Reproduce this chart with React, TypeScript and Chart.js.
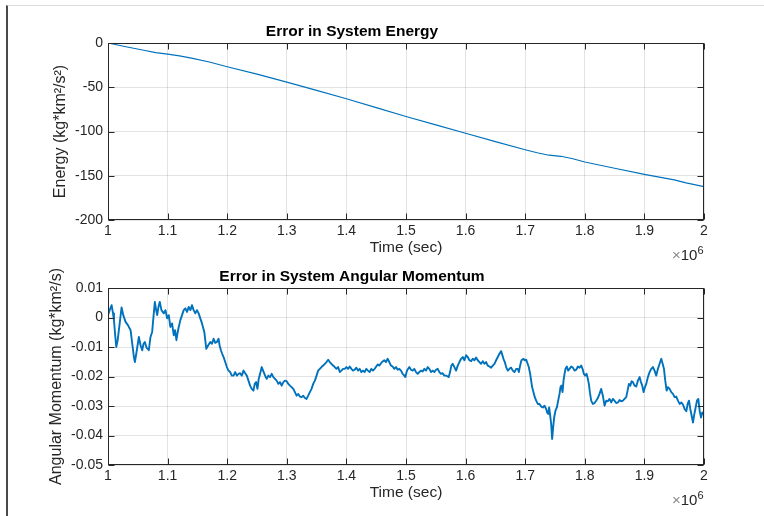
import React, { useEffect, useRef } from "react";
import { Chart, registerables } from "chart.js";

Chart.register(...registerables);

// ---------- data (time in units of 10^6 s) ----------
const timeTicks = [1, 1.1, 1.2, 1.3, 1.4, 1.5, 1.6, 1.7, 1.8, 1.9, 2];
const energyTicks = [0, -50, -100, -150, -200];
const momentumTicks = [0.01, 0, -0.01, -0.02, -0.03, -0.04, -0.05];

const energyTime = [
  1.0, 1.03, 1.06, 1.08, 1.1, 1.12, 1.14, 1.17, 1.2, 1.25, 1.3, 1.35, 1.4, 1.45, 1.5,
  1.55, 1.6, 1.65, 1.7, 1.72, 1.74, 1.76, 1.78, 1.8, 1.85, 1.9, 1.95, 1.97, 2.0,
];
const energyError = [
  0, -4.2, -8.2, -10.8, -12.6, -14.6, -17.0, -21.5, -26.8, -35.2, -44.2, -53.5, -63, -73, -83,
  -92.5, -102, -111.5, -120.6, -124, -126.8, -128, -130.8, -134.5, -141.5, -148.4, -154.6, -158, -162.4,
];

const momentumTime = [
  1.0, 1.0028, 1.0061, 1.0084, 1.01, 1.0123, 1.0139, 1.0162, 1.0189, 1.0228, 1.0256, 1.0295, 1.0334,
  1.0379, 1.0407, 1.0435, 1.0451, 1.0479, 1.0518, 1.0546, 1.0574, 1.0596, 1.0618, 1.0646, 1.0685,
  1.0713, 1.0741, 1.0758, 1.0786, 1.0808, 1.0825, 1.0847, 1.0869, 1.0897, 1.0936, 1.0964, 1.0992,
  1.1019, 1.1047, 1.1075, 1.1103, 1.1125, 1.1148, 1.117, 1.1187, 1.1214, 1.1242, 1.127, 1.1298,
  1.1326, 1.1354, 1.1382, 1.1409, 1.1437, 1.1465, 1.1493, 1.1521, 1.1549, 1.1577, 1.1616, 1.1649,
  1.1682, 1.1716, 1.1744, 1.1772, 1.1799, 1.1827, 1.1855, 1.1872, 1.1894, 1.1916, 1.1939, 1.1967,
  1.1994, 1.2022, 1.205, 1.2078, 1.2106, 1.2134, 1.2162, 1.2189, 1.2217, 1.2245, 1.2273, 1.2301,
  1.2329, 1.2357, 1.2384, 1.2412, 1.244, 1.2462, 1.2485, 1.2507, 1.2529, 1.2552, 1.2579, 1.2602,
  1.2624, 1.2646, 1.2663, 1.2691, 1.2719, 1.2747, 1.2774, 1.2802, 1.283, 1.2858, 1.2886, 1.2914,
  1.2942, 1.2969, 1.2997, 1.3025, 1.3053, 1.3081, 1.3109, 1.3136, 1.3164, 1.3192, 1.322, 1.3248,
  1.3276, 1.3304, 1.3331, 1.3359, 1.3387, 1.3415, 1.3443, 1.3471, 1.3499, 1.3526, 1.3554, 1.3582,
  1.361, 1.3638, 1.3666, 1.3694, 1.3721, 1.3749, 1.3777, 1.3805, 1.3833, 1.3861, 1.3889, 1.3916,
  1.3944, 1.3972, 1.4, 1.4028, 1.4056, 1.4084, 1.4111, 1.4139, 1.4167, 1.4195, 1.4223, 1.4251,
  1.4279, 1.4306, 1.4334, 1.4362, 1.439, 1.4418, 1.4446, 1.4474, 1.4501, 1.4529, 1.4552, 1.4597,
  1.4636, 1.4664, 1.4692, 1.472, 1.4748, 1.4776, 1.4804, 1.4832, 1.486, 1.4888, 1.4916, 1.4944,
  1.4972, 1.4989, 1.5017, 1.5056, 1.5084, 1.5112, 1.514, 1.5168, 1.5196, 1.5224, 1.5252, 1.528,
  1.5308, 1.5336, 1.5364, 1.5392, 1.542, 1.5448, 1.5476, 1.5504, 1.5532, 1.556, 1.5588, 1.5616,
  1.5644, 1.5672, 1.57, 1.5717, 1.5739, 1.5761, 1.5784, 1.5812, 1.584, 1.5868, 1.5896, 1.5924,
  1.5952, 1.598, 1.6008, 1.6036, 1.6064, 1.6092, 1.612, 1.6148, 1.6176, 1.6204, 1.6232, 1.626,
  1.6288, 1.6316, 1.6344, 1.6372, 1.64, 1.6428, 1.6456, 1.6484, 1.6512, 1.654, 1.6568, 1.6596,
  1.6613, 1.6635, 1.6658, 1.668, 1.6708, 1.6736, 1.6764, 1.6792, 1.682, 1.6848, 1.6876, 1.6893,
  1.6915, 1.6937, 1.6971, 1.6993, 1.7016, 1.7038, 1.706, 1.7083, 1.71, 1.7116, 1.7139, 1.7161,
  1.7184, 1.7212, 1.724, 1.7268, 1.7296, 1.7324, 1.7352, 1.7368, 1.7385, 1.7402, 1.7419, 1.7436,
  1.7452, 1.7469, 1.7486, 1.7508, 1.7531, 1.7553, 1.7576, 1.7592, 1.7609, 1.7626, 1.7643, 1.766,
  1.7676, 1.7699, 1.7721, 1.7744, 1.7772, 1.78, 1.7828, 1.7856, 1.7884, 1.7912, 1.794, 1.7962,
  1.7984, 1.8007, 1.8029, 1.8051, 1.8068, 1.8085, 1.8107, 1.8135, 1.8163, 1.8191, 1.8219, 1.8247,
  1.8275, 1.8303, 1.8331, 1.8359, 1.8387, 1.8415, 1.8443, 1.8471, 1.8499, 1.8527, 1.8555, 1.8583,
  1.8611, 1.8639, 1.8667, 1.8695, 1.8718, 1.874, 1.8763, 1.8785, 1.8807, 1.8835, 1.8863, 1.8891,
  1.8919, 1.8942, 1.8964, 1.8986, 1.9009, 1.9031, 1.9059, 1.9087, 1.9115, 1.9143, 1.9171, 1.9199,
  1.9227, 1.9255, 1.9283, 1.9306, 1.9328, 1.935, 1.9373, 1.9395, 1.9423, 1.9451, 1.9479, 1.9507,
  1.9535, 1.9563, 1.9591, 1.9619, 1.9647, 1.9675, 1.9703, 1.9726, 1.9748, 1.977, 1.9793, 1.9815,
  1.9838, 1.986, 1.9882, 1.9905, 1.9927, 1.995, 1.9972, 2.0,
];
const momentumError = [
  0.0008, 0.0025, 0.0042, 0.0014, -0.0009, -0.0066, -0.01, -0.0077, -0.0032, 0.0034, 0.0008, -0.0015, -0.0026,
  -0.0043, -0.0089, -0.0134, -0.0151, -0.0117, -0.0066, -0.0094, -0.0111, -0.0089, -0.0083, -0.0102, -0.0111,
  -0.0066, -0.0049, -0.0009, 0.0053, 0.0025, 0.0008, 0.0036, 0.0053, 0.0025, 0.0014, 0.0025, -0.0003,
  0.0008, -0.0032, -0.002, -0.006, -0.0043, -0.0077, -0.0049, -0.0032, -0.0009, 0.0008, 0.0025, 0.0031,
  0.0019, 0.0036, 0.0025, 0.0042, 0.0025, 0.0014, 0.0025, 0.0014, -0.0003, -0.002, -0.0049, -0.0106,
  -0.0094, -0.0083, -0.0089, -0.0072, -0.0086, -0.0083, -0.0072, -0.0094, -0.0111, -0.0123, -0.0134, -0.0151,
  -0.0168, -0.018, -0.0185, -0.0197, -0.0197, -0.0185, -0.0197, -0.0191, -0.0189, -0.0197, -0.018, -0.0189,
  -0.0197, -0.0214, -0.0231, -0.0242, -0.0248, -0.0225, -0.0219, -0.0242, -0.0208, -0.0191, -0.0168, -0.018,
  -0.0191, -0.0202, -0.0208, -0.0197, -0.0202, -0.0191, -0.0202, -0.0208, -0.0214, -0.0225, -0.0219, -0.0231,
  -0.0219, -0.0214, -0.0216, -0.0225, -0.0231, -0.0236, -0.0242, -0.0253, -0.0265, -0.0259, -0.0268, -0.027,
  -0.0265, -0.0273, -0.0276, -0.0265, -0.0253, -0.0242, -0.0225, -0.0214, -0.0197, -0.018, -0.0174, -0.0168,
  -0.0163, -0.0157, -0.0151, -0.0143, -0.0151, -0.0157, -0.0163, -0.0168, -0.0174, -0.0168, -0.0185, -0.018,
  -0.0174, -0.0174, -0.0168, -0.0174, -0.0166, -0.0174, -0.018, -0.0177, -0.017, -0.018, -0.0174, -0.0185,
  -0.018, -0.0185, -0.0174, -0.018, -0.0185, -0.0174, -0.018, -0.0174, -0.0166, -0.0159, -0.0163, -0.0151,
  -0.0145, -0.0151, -0.014, -0.0151, -0.0163, -0.0166, -0.0174, -0.0168, -0.0177, -0.0174, -0.018, -0.0191,
  -0.0197, -0.0202, -0.018, -0.0168, -0.0177, -0.018, -0.0174, -0.0185, -0.0191, -0.0185, -0.018, -0.0183,
  -0.0174, -0.018, -0.0168, -0.0174, -0.0185, -0.018, -0.0185, -0.0177, -0.0174, -0.0185, -0.0191, -0.0189,
  -0.0197, -0.0197, -0.02, -0.0202, -0.0185, -0.0163, -0.0157, -0.0168, -0.018, -0.0163, -0.0151, -0.014,
  -0.0134, -0.0145, -0.0128, -0.0134, -0.0145, -0.0148, -0.014, -0.0145, -0.0136, -0.0145, -0.0151, -0.0157,
  -0.0148, -0.0157, -0.0151, -0.0163, -0.0166, -0.017, -0.0163, -0.0157, -0.0145, -0.0134, -0.0123, -0.0114,
  -0.0125, -0.014, -0.0151, -0.0168, -0.018, -0.0174, -0.017, -0.018, -0.0185, -0.0174, -0.0174, -0.0185,
  -0.0163, -0.0145, -0.014, -0.0145, -0.0143, -0.0155, -0.0168, -0.0191, -0.0214, -0.0236, -0.0253, -0.027,
  -0.0282, -0.0293, -0.0293, -0.0302, -0.0305, -0.0299, -0.031, -0.0322, -0.0327, -0.0305, -0.0333, -0.0361,
  -0.0412, -0.0373, -0.0339, -0.0316, -0.0305, -0.0282, -0.0259, -0.0236, -0.0231, -0.0253, -0.0214, -0.0191,
  -0.0174, -0.0166, -0.018, -0.0174, -0.0166, -0.017, -0.018, -0.0177, -0.0166, -0.017, -0.0163, -0.0174,
  -0.0191, -0.0197, -0.0191, -0.0208, -0.0225, -0.0253, -0.0282, -0.0293, -0.029, -0.0282, -0.0273, -0.0259,
  -0.0242, -0.0265, -0.0299, -0.0282, -0.0284, -0.0276, -0.0288, -0.0276, -0.0282, -0.029, -0.0288, -0.028,
  -0.0284, -0.0282, -0.0276, -0.027, -0.0248, -0.0225, -0.0231, -0.0216, -0.0219, -0.0231, -0.0234, -0.0214,
  -0.0202, -0.0219, -0.0231, -0.0253, -0.0236, -0.0225, -0.0202, -0.0185, -0.0174, -0.0168, -0.018, -0.0197,
  -0.0174, -0.0157, -0.014, -0.0157, -0.0174, -0.0214, -0.0248, -0.0236, -0.0242, -0.0253, -0.0259, -0.027,
  -0.0268, -0.0282, -0.0293, -0.0288, -0.0295, -0.031, -0.0318, -0.0293, -0.0282, -0.031, -0.0333, -0.0356,
  -0.0327, -0.0305, -0.0282, -0.0276, -0.0316, -0.0339, -0.0322, -0.0327,
];

// ---------- styling ----------
const FONT = '"Liberation Sans", Arial, Helvetica, sans-serif';
const AXIS_COLOR = "#262626";
const GRID_COLOR = "rgba(0,0,0,0.11)";
const LINE_COLOR = "#0072BD";
const CANVAS_W = 764;
const CANVAS_H = 271;

const fmt = (v: number) => String(Number(Number(v).toFixed(4)));

// MATLAB-like box with inward tick marks and the x10^6 exponent label
const matlabAxesPlugin = {
  id: "matlabAxes",
  afterDatasetsDraw(chart: any) {
    const { ctx, chartArea, scales } = chart;
    const L = Math.round(chartArea.left) + 0.5;
    const R = Math.round(chartArea.right) - 0.5;
    const T = Math.round(chartArea.top) + 0.5;
    const B = Math.round(chartArea.bottom) - 0.5;
    const tl = 6;
    ctx.save();
    ctx.strokeStyle = AXIS_COLOR;
    ctx.lineWidth = 1;
    ctx.beginPath();
    scales.x.ticks.forEach((t: any) => {
      const px = Math.round(scales.x.getPixelForValue(t.value)) + 0.5;
      ctx.moveTo(px, B);
      ctx.lineTo(px, B - tl);
      ctx.moveTo(px, T);
      ctx.lineTo(px, T + tl);
    });
    scales.y.ticks.forEach((t: any) => {
      const py = Math.round(scales.y.getPixelForValue(t.value)) + 0.5;
      ctx.moveTo(L, py);
      ctx.lineTo(L + tl, py);
      ctx.moveTo(R, py);
      ctx.lineTo(R - tl, py);
    });
    ctx.stroke();
    ctx.strokeRect(L, T, R - L, B - T);

    // exponent label
    ctx.textAlign = "right";
    ctx.textBaseline = "alphabetic";
    ctx.font = `11px ${FONT}`;
    const supW = ctx.measureText("6").width;
    const xr = chartArea.right - 0.5;
    const base = chartArea.bottom + 40;
    ctx.fillStyle = AXIS_COLOR;
    ctx.fillText("6", xr, base - 6);
    ctx.font = `15px ${FONT}`;
    const tenW = ctx.measureText("10").width;
    ctx.fillText("10", xr - supW, base);
    ctx.fillStyle = "#8a8a8a";
    ctx.fillText("×", xr - supW - tenW, base);
    ctx.restore();
  },
};

function makeConfig(
  title: string,
  yTitle: string,
  xs: number[],
  ys: number[],
  yMin: number,
  yMax: number,
  yTicks: number[],
  yTitlePad: number,
  lineWidth: number
): any {
  return {
    type: "line",
    data: {
      datasets: [
        {
          data: xs.map((x, i) => ({ x, y: ys[i] })),
          borderColor: LINE_COLOR,
          borderWidth: lineWidth,
          pointRadius: 0,
          tension: 0,
          fill: false,
          borderJoinStyle: "round",
        },
      ],
    },
    options: {
      responsive: false,
      maintainAspectRatio: false,
      animation: false,
      layout: { padding: { left: 0, right: 60, top: 0, bottom: 0 } },
      plugins: {
        legend: { display: false },
        tooltip: { enabled: false },
        title: {
          display: true,
          text: title,
          color: "#000",
          font: { family: FONT, size: 15.5, weight: "bold" },
          padding: { top: 22, bottom: 2.4 },
        },
      },
      scales: {
        x: {
          type: "linear",
          position: "bottom",
          min: 1,
          max: 2,
          afterBuildTicks: (s: any) => {
            s.ticks = timeTicks.map((v) => ({ value: v }));
          },
          afterFit: (s: any) => {
            s.height = 51;
          },
          ticks: {
            callback: (v: any) => fmt(v),
            color: AXIS_COLOR,
            font: { family: FONT, size: 14 },
            padding: 3,
            maxRotation: 0,
            autoSkip: false,
          },
          grid: { color: GRID_COLOR, drawTicks: false, lineWidth: 1 },
          border: { display: false },
          title: {
            display: true,
            text: "Time (sec)",
            color: AXIS_COLOR,
            font: { family: FONT, size: 15.5 },
            padding: { top: 0, bottom: 14 },
          },
        },
        y: {
          type: "linear",
          min: yMin,
          max: yMax,
          afterBuildTicks: (s: any) => {
            s.ticks = yTicks.map((v) => ({ value: v }));
          },
          afterFit: (s: any) => {
            s.width = 108;
          },
          ticks: {
            callback: (v: any) => fmt(v),
            color: AXIS_COLOR,
            font: { family: FONT, size: 14 },
            padding: 5,
            autoSkip: false,
          },
          grid: { color: GRID_COLOR, drawTicks: false, lineWidth: 1 },
          border: { display: false },
          title: {
            display: true,
            text: yTitle,
            color: AXIS_COLOR,
            font: { family: FONT, size: 16 },
            padding: { top: yTitlePad, bottom: 0 },
          },
        },
      },
    },
    plugins: [matlabAxesPlugin],
  };
}

function PlotCanvas({ config, top }: { config: any; top: number }) {
  const ref = useRef<HTMLCanvasElement | null>(null);
  useEffect(() => {
    if (!ref.current) return;
    const chart = new Chart(ref.current, config);
    return () => chart.destroy();
  }, [config]);
  return (
    <canvas
      ref={ref}
      width={CANVAS_W}
      height={CANVAS_H}
      style={{ position: "absolute", left: 0, top, width: CANVAS_W, height: CANVAS_H }}
    />
  );
}

const energyConfig = makeConfig(
  "Error in System Energy",
  "Energy (kg*km²/s²)",
  energyTime,
  energyError,
  -200,
  0,
  energyTicks,
  51,
  1.2
);
const momentumConfig = makeConfig(
  "Error in System Angular Momentum",
  "Angular Momentum (kg*km²/s)",
  momentumTime,
  momentumError,
  -0.05,
  0.01,
  momentumTicks,
  47,
  1.9
);

export default function App() {
  return (
    <div
      style={{
        position: "absolute",
        left: 0,
        top: 0,
        width: 764,
        height: 516,
        background: "#fff",
        overflow: "hidden",
      }}
    >
      <div
        style={{
          position: "absolute",
          left: 6,
          top: 5,
          width: 758,
          height: 511,
          borderLeft: "2px solid #4a4a4a",
          borderTop: "1px solid #dcdcdc",
          boxSizing: "border-box",
        }}
      />
      <PlotCanvas config={energyConfig} top={0} />
      <PlotCanvas config={momentumConfig} top={245} />
    </div>
  );
}
